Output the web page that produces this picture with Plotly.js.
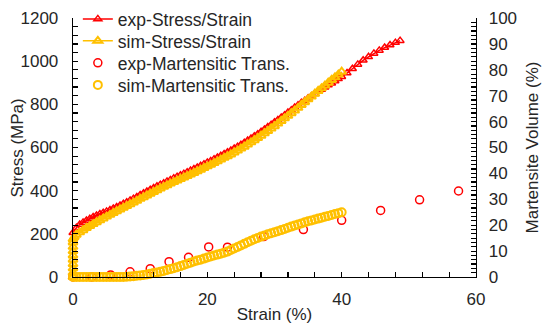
<!DOCTYPE html>
<html>
<head>
<meta charset="utf-8">
<script src="https://cdn.plot.ly/plotly-3.0.1.min.js"></script>
<style>
  html, body { margin: 0; padding: 0; background: #fff; }
  #chart { width: 550px; height: 328px; }
</style>
</head>
<body>
<div id="chart"></div>
<script>
// ---- Data ----
const expStressX = [0,0.5,1,1.5,2,2.5,3,3.5,4,4.5,5,5.5,6,6.5,7,7.5,8,8.5,9,9.5,10,10.5,11,11.5,12,12.5,13,13.5,14,14.5,15,15.5,16,16.5,17,17.5,18,18.5,19,19.5,20,20.5,21,21.5,22,22.5,23,23.5,24,24.5,25,25.5,26,26.5,27,27.5,28,28.5,29,29.5,30,30.5,31,31.5,32,32.5,33,33.5,34,34.5,35,35.5,36,36.5,37,37.5,38,38.5,39,39.5,40,40.8,41.6,42.4,43.2,44,44.8,45.6,46.4,47.2,48,48.7];
const expStressY = [205,228,243,253,262,270,278,285,292,298,304,310,317,324,331,339,347,355,363,371,380,388,396,404,412,420,428,435,443,450,458,465,472,479,486,493,500,507,515,523,531,538,546,554,562,570,578,586,595,604,613,622,632,642,652,662,673,684,695,706,717,728,739,750,762,773,785,796,807,817,828,838,849,859,869,879,889,898,908,918,928,945,965,985,1004,1020,1036,1050,1063,1075,1086,1095];

const simStressX = [0,0,0,0,0,0,0,0,0,0,0.2,0.5,1,1.5,2,2.5,3,3.5,4,4.5,5,5.5,6,6.5,7,7.5,8,8.5,9,9.5,10,10.5,11,11.5,12,12.5,13,13.5,14,14.5,15,15.5,16,16.5,17,17.5,18,18.5,19,19.5,20,20.5,21,21.5,22,22.5,23,23.5,24,24.5,25,25.5,26,26.5,27,27.5,28,28.5,29,29.5,30,30.5,31,31.5,32,32.5,33,33.5,34,34.5,35,35.5,36,36.5,37,37.5,38,38.5,39,39.5,40];
const simStressY = [0,20,40,60,80,100,120,140,160,175,185,196,207,217,227,236,245,254,263,271,280,288,297,305,313,321,329,337,345,353,362,370,378,386,394,402,410,418,425,433,440,447,454,461,468,475,482,490,497,505,513,520,528,536,544,552,560,568,577,586,595,604,614,624,634,644,655,666,677,688,699,711,723,735,747,759,771,784,797,810,823,836,849,862,874,887,900,913,925,938,951];

const expMartX = [0,2.8,5.6,8.5,11.5,14.3,17.2,20.2,23.0,28.4,34.3,40.0,45.8,51.6,57.4];
const expMartY = [0,0,0.8,2.0,3.2,5.9,7.6,11.6,11.5,15.6,18.3,21.9,25.7,29.8,33.2];

const simMartX = [0,0.5,1,1.5,2,2.5,3,3.5,4,4.5,5,5.5,6,6.5,7,7.5,8,8.5,9,9.5,10,10.5,11,11.5,12,12.5,13,13.5,14,14.5,15,15.5,16,16.5,17,17.5,18,18.5,19,19.5,20,20.5,21,21.5,22,22.5,23,23.5,24,24.5,25,25.5,26,26.5,27,27.5,28,28.5,29,29.5,30,30.5,31,31.5,32,32.5,33,33.5,34,34.5,35,35.5,36,36.5,37,37.5,38,38.5,39,39.5,40];
const simMartY = [0,0,0,0,0,0,0,0,0,0,0,0,0,0,0,0,0.1,0.2,0.3,0.45,0.6,0.8,1.0,1.25,1.5,1.75,2.0,2.35,2.7,3.05,3.4,3.8,4.2,4.65,5.1,5.55,6.0,6.35,6.7,7.1,7.5,7.9,8.3,8.65,9.0,9.4,9.8,10.4,11.0,11.6,12.2,12.8,13.4,14.0,14.6,15.1,15.6,16.05,16.5,16.9,17.3,17.7,18.1,18.55,19.0,19.45,19.9,20.3,20.7,21.1,21.5,21.85,22.2,22.55,22.9,23.25,23.6,23.95,24.3,24.65,25.0];

const seriesNames = ['exp-Stress/Strain','sim-Stress/Strain','exp-Martensitic Trans.','sim-Martensitic Trans.'];
const xTitle = 'Strain (%)';
const yTitle = 'Stress (MPa)';
const y2Title = 'Martensite Volume (%)';

// ---- Styles ----
const RED = '#FF0000';
const YEL = '#FFC000';
const TXT = '#262626';
const FONT = 'Liberation Sans, Arial, sans-serif';

const traces = [
  {
    x: expStressX, y: expStressY, name: seriesNames[0], type: 'scatter', legend: 'legend',
    mode: 'lines+markers', cliponaxis: false,
    line: {color: RED, width: 1.5},
    marker: {symbol: 'triangle-up-open', size: 7, color: RED, line: {color: RED, width: 1.5}}
  },
  {
    x: simStressX, y: simStressY, name: seriesNames[1], type: 'scatter', legend: 'legend2',
    mode: 'lines+markers', cliponaxis: false,
    line: {color: YEL, width: 1.5},
    marker: {symbol: 'triangle-up-open', size: 8, color: YEL, line: {color: YEL, width: 2}}
  },
  {
    x: expMartX, y: expMartY, name: seriesNames[2], type: 'scatter', yaxis: 'y2', legend: 'legend3',
    mode: 'markers', cliponaxis: false,
    marker: {symbol: 'circle-open', size: 8, color: RED, line: {color: RED, width: 1.5}}
  },
  {
    x: simMartX, y: simMartY, name: seriesNames[3], type: 'scatter', yaxis: 'y2', legend: 'legend4',
    mode: 'markers', cliponaxis: false,
    marker: {symbol: 'circle-open', size: 8, color: YEL, line: {color: YEL, width: 2}}
  }
];

const axisCommon = {
  showgrid: false, zeroline: false,
  showline: true, linecolor: '#000', linewidth: 1.3,
  ticks: 'inside', ticklen: 5, tickwidth: 1.2, tickcolor: '#000',
  tickfont: {family: FONT, size: 17, color: TXT},
  fixedrange: true
};

function legendAt(yc) {
  return {
    x: 0.012, y: yc, xanchor: 'left', yanchor: 'middle',
    bgcolor: 'rgba(0,0,0,0)', borderwidth: 0,
    font: {family: FONT, size: 17.5, color: TXT},
    tracegroupgap: 0, itemwidth: 30
  };
}

const layout = {
  width: 550, height: 328,
  margin: {l: 73, r: 74, t: 18, b: 51, pad: 0, autoexpand: false},
  paper_bgcolor: '#fff', plot_bgcolor: '#fff',
  font: {family: FONT, color: TXT, size: 17},
  showlegend: true,
  legend: legendAt(0.9961),
  legend2: legendAt(0.9112),
  legend3: legendAt(0.8263),
  legend4: legendAt(0.7413),
  xaxis: Object.assign({}, axisCommon, {
    range: [0, 60], dtick: 20, tick0: 0,
    ticklabelstandoff: 6,
    minor: {dtick: 4, ticks: 'inside', ticklen: 5, tickwidth: 1.2, tickcolor: '#000', showgrid: false},
    title: {text: xTitle, font: {family: FONT, size: 17, color: TXT}, standoff: 0}
  }),
  yaxis: Object.assign({}, axisCommon, {
    range: [0, 1200], dtick: 200, tick0: 0,
    ticklabelstandoff: 10,
    minor: {dtick: 40, ticks: 'inside', ticklen: 5, tickwidth: 1.2, tickcolor: '#000', showgrid: false}
  }),
  yaxis2: Object.assign({}, axisCommon, {
    overlaying: 'y', side: 'right', anchor: 'x',
    range: [0, 100], dtick: 10, tick0: 0,
    ticklabelstandoff: 8,
    minor: {dtick: 10/6, ticks: 'inside', ticklen: 5, tickwidth: 1.2, tickcolor: '#000', showgrid: false}
  }),
  annotations: [
    {text: yTitle, xref: 'paper', yref: 'paper', x: -0.1365, y: 0.5, textangle: -90,
     showarrow: false, xanchor: 'center', yanchor: 'middle',
     font: {family: FONT, size: 17, color: TXT}},
    {text: y2Title, xref: 'paper', yref: 'paper', x: 1.1414, y: 0.5, textangle: -90,
     showarrow: false, xanchor: 'center', yanchor: 'middle',
     font: {family: FONT, size: 17, color: TXT}}
  ]
};

Plotly.newPlot('chart', traces, layout, {displayModeBar: false, staticPlot: true});
</script>
</body>
</html>
